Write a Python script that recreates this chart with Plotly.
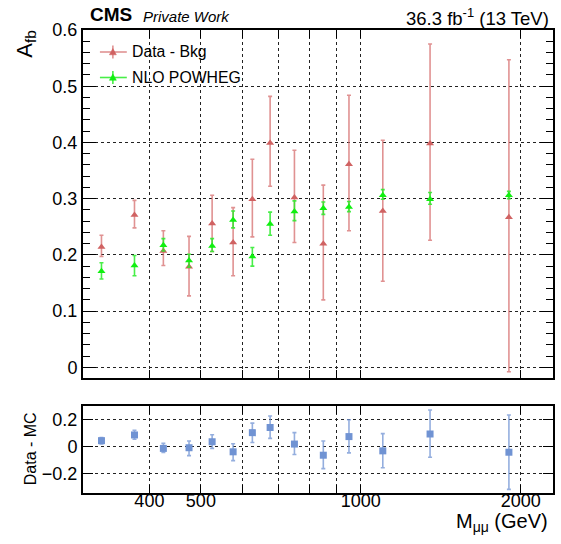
import math
import plotly.graph_objects as go

# ---------------- data ----------------
mass = [325, 375, 425, 475, 525, 575, 625, 675, 750, 850, 950, 1100, 1350, 1900]

afb_data = [0.214, 0.271, 0.207, 0.179, 0.256, 0.222, 0.299, 0.399, 0.302, 0.220, 0.361, 0.278, 0.398, 0.267]
afb_data_hi = [0.235, 0.297, 0.243, 0.233, 0.306, 0.284, 0.370, 0.482, 0.386, 0.324, 0.484, 0.404, 0.575, 0.547]
afb_data_lo = [0.197, 0.248, 0.181, 0.127, 0.206, 0.163, 0.232, 0.322, 0.222, 0.120, 0.243, 0.153, 0.226, -0.008]

afb_mc = [0.171, 0.181, 0.217, 0.190, 0.216, 0.262, 0.197, 0.255, 0.277, 0.283, 0.285, 0.306, 0.299, 0.306]
afb_mc_hi = [0.186, 0.199, 0.229, 0.201, 0.229, 0.278, 0.213, 0.276, 0.296, 0.294, 0.295, 0.316, 0.311, 0.313]
afb_mc_lo = [0.157, 0.163, 0.207, 0.178, 0.206, 0.248, 0.180, 0.235, 0.261, 0.272, 0.277, 0.299, 0.290, 0.300]

diff = [0.045, 0.087, -0.012, -0.007, 0.037, -0.037, 0.104, 0.142, 0.020, -0.062, 0.075, -0.030, 0.094, -0.040]
diff_hi = [0.067, 0.122, 0.025, 0.042, 0.089, 0.022, 0.174, 0.226, 0.104, 0.042, 0.199, 0.097, 0.271, 0.234]
diff_lo = [0.020, 0.055, -0.042, -0.065, -0.012, -0.102, 0.032, 0.062, -0.057, -0.161, -0.045, -0.154, -0.077, -0.313]

x_major = [400, 500, 1000, 2000]
x_major_text = ["400", "500", "1000", "2000"]
x_minor = [600, 700, 800, 900]
x_range = [300, 2300]

legend_labels = ["Data - Bkg", "NLO POWHEG"]

# ---------------- style ----------------
FONT = "Liberation Sans, Arial, Helvetica, sans-serif"
RED = "#d06262"
RED_ERR = "rgba(214,110,110,0.75)"
GREEN = "#10f010"
GREEN_ERR = "rgba(40,235,40,0.85)"
BLUE = "#7093d3"
BLUE_ERR = "rgba(112,147,211,0.75)"

W, H = 561, 544
ML, MR, MT, MB = 83, 6, 30, 51
PW = W - ML - MR
PH = H - MT - MB


def px(xp):
    return (xp - ML) / PW


def py(yp):
    return (H - MB - yp) / PH


def up(v, hi):
    return [h - c for c, h in zip(v, hi)]


def dn(v, lo):
    return [c - l for c, l in zip(v, lo)]


fig = go.Figure()

fig.add_trace(go.Scatter(
    x=mass, y=afb_data, mode="markers", name=legend_labels[0],
    marker=dict(symbol="triangle-up", size=7, color=RED),
    error_y=dict(type="data", symmetric=False, array=up(afb_data, afb_data_hi),
                 arrayminus=dn(afb_data, afb_data_lo), color=RED_ERR, thickness=1.6, width=2),
    xaxis="x", yaxis="y", showlegend=False))

fig.add_trace(go.Scatter(
    x=mass, y=afb_mc, mode="markers", name=legend_labels[1],
    marker=dict(symbol="triangle-up", size=7, color=GREEN),
    error_y=dict(type="data", symmetric=False, array=up(afb_mc, afb_mc_hi),
                 arrayminus=dn(afb_mc, afb_mc_lo), color=GREEN_ERR, thickness=1.6, width=2),
    xaxis="x", yaxis="y", showlegend=False))

fig.add_trace(go.Scatter(
    x=mass, y=diff, mode="markers", name="Data - MC",
    marker=dict(symbol="square", size=7, color=BLUE),
    error_y=dict(type="data", symmetric=False, array=up(diff, diff_hi),
                 arrayminus=dn(diff, diff_lo), color=BLUE_ERR, thickness=1.6, width=2),
    xaxis="x2", yaxis="y2", showlegend=False))

# ---------------- legend glyphs (paper space) ----------------
shapes = []
leg_x = 113
leg_y = [52, 77.5]
for yy, col, mcol in zip(leg_y, [RED_ERR, GREEN_ERR], [RED, GREEN]):
    shapes.append(dict(type="line", xref="paper", yref="paper", x0=px(100), x1=px(127),
                       y0=py(yy), y1=py(yy), line=dict(color=col, width=1.6)))
    shapes.append(dict(type="line", xref="paper", yref="paper", x0=px(leg_x), x1=px(leg_x),
                       y0=py(yy - 6.5), y1=py(yy + 6.5), line=dict(color=col, width=1.6)))
    tri = "M {:.5f} {:.5f} L {:.5f} {:.5f} L {:.5f} {:.5f} Z".format(
        px(leg_x - 3.5), py(yy + 2.8), px(leg_x + 3.5), py(yy + 2.8), px(leg_x), py(yy - 3.5))
    shapes.append(dict(type="path", xref="paper", yref="paper", path=tri,
                       fillcolor=mcol, line=dict(color=mcol, width=0.5)))

common_x = dict(
    type="log", range=[math.log10(x_range[0]), math.log10(x_range[1])],
    tickvals=x_major, ticktext=x_major_text,
    showgrid=True, gridcolor="#222", griddash="dot", gridwidth=1,
    minor=dict(tickvals=x_minor, showgrid=True, gridcolor="#222", griddash="dot", gridwidth=1,
               ticks="inside", ticklen=8, tickcolor="black", tickwidth=1),
    showline=True, linecolor="black", linewidth=2, mirror="ticks",
    ticks="inside", ticklen=8, tickcolor="black", tickwidth=1,
    tickfont=dict(family=FONT, size=18, color="black"),
    zeroline=False,
)

fig.update_layout(
    width=W, height=H,
    margin=dict(l=ML, r=MR, t=MT, b=MB, pad=0),
    paper_bgcolor="white", plot_bgcolor="white",
    font=dict(family=FONT, color="black"),
    shapes=shapes,
    xaxis=dict(common_x, domain=[0, 1], anchor="y", showticklabels=False),
    xaxis2=dict(common_x, domain=[0, 1], anchor="y2", matches="x", showticklabels=True,
                ticklabelstandoff=-10),
    yaxis=dict(
        domain=[py(378), 1], anchor="x", range=[-0.019, 0.6],
        tick0=0, dtick=0.1, showgrid=True, gridcolor="#222", griddash="dot", gridwidth=1,
        showline=True, linecolor="black", linewidth=2, mirror="ticks",
        ticks="inside", ticklen=13, tickcolor="black", tickwidth=1,
        minor=dict(dtick=0.02, ticks="inside", ticklen=7, tickcolor="black", showgrid=False),
        tickfont=dict(family=FONT, size=18, color="black"), zeroline=False,
        ticklabelstandoff=0,
    ),
    yaxis2=dict(
        domain=[0, py(406)], anchor="x2", range=[-0.34, 0.3],
        tickvals=[-0.2, 0, 0.2], ticktext=["\u22120.2", "0", "0.2"],
        showgrid=True, gridcolor="#222", griddash="dot", gridwidth=1,
        showline=True, linecolor="black", linewidth=2, mirror="ticks",
        ticks="inside", ticklen=10, tickcolor="black", tickwidth=1,
        tickfont=dict(family=FONT, size=18, color="black"), zeroline=False,
        ticklabelstandoff=0,
    ),
)

ann = [
    dict(text="A<sub>fb</sub>", x=25.5, y=28, xanchor="center", yanchor="top",
         textangle=-90, font=dict(size=22)),
    dict(text="Data - MC", x=30, y=449, xanchor="center", yanchor="middle",
         textangle=-90, font=dict(size=16)),
    dict(text="M<sub>\u03bc\u03bc</sub> (GeV)", x=552, y=522, xanchor="right", yanchor="middle",
         font=dict(size=20)),
    dict(text="<b>CMS</b>", x=88, y=15, xanchor="left", yanchor="middle", font=dict(size=19)),
    dict(text="<i>Private Work</i>", x=141, y=16, xanchor="left", yanchor="middle",
         font=dict(size=15)),
    dict(text="36.3 fb<sup>-1</sup> (13 TeV)", x=553, y=17, xanchor="right", yanchor="middle",
         font=dict(size=18.5)),
    dict(text=legend_labels[0], x=130, y=52, xanchor="left", yanchor="middle", font=dict(size=15.8)),
    dict(text=legend_labels[1], x=130, y=77.5, xanchor="left", yanchor="middle", font=dict(size=15.8)),
]
for a in ann:
    a.update(x=px(a["x"]), y=py(a["y"]), xref="paper", yref="paper", showarrow=False)
    a["font"] = dict(family=FONT, color="black", **a["font"])
fig.update_layout(annotations=ann)

fig.write_html("out.html")
